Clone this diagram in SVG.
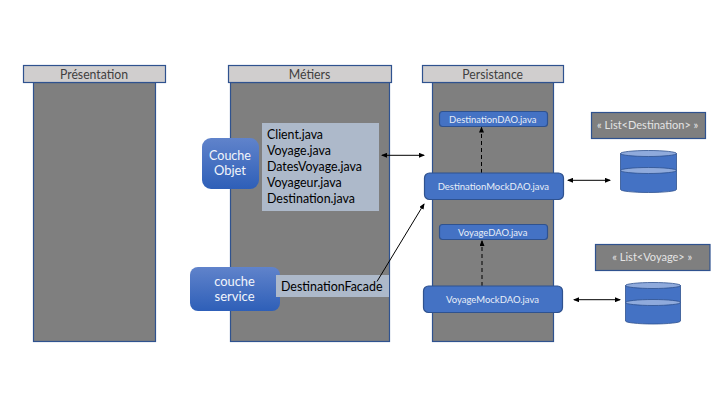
<svg xmlns="http://www.w3.org/2000/svg" width="720" height="405" viewBox="0 0 720 405">
<style>
text{font-family:Lato,Carlito,"Open Sans",sans-serif;font-weight:400}
.body{fill:#7f7f7f;stroke:#2f528f;stroke-width:1.2}
.head{fill:#d0cece;stroke:#2f528f;stroke-width:1.2}
.headt{font-size:13px;fill:#404040;text-anchor:middle}
.dao{fill:#4472c4;stroke:#2f528f;stroke-width:1.2}
.daot{font-size:10px;fill:#e8eef8;text-anchor:middle}
.note{fill:#adb9ca}
.notet{font-size:13px;fill:#000}
.layer{fill:url(#g)}
.layert{font-size:13px;fill:#f2f5fb;text-anchor:middle}
.list{fill:#7f7f7f;stroke:#2f528f;stroke-width:1.2}
.listt{font-size:11px;fill:#e4e4e4;text-anchor:middle}
.cyl{fill:#4472c4;stroke:#2f528f;stroke-width:.8}
.cyltop{fill:#8faadc;stroke:#2f528f;stroke-width:.8}
.c{fill:none;stroke:#000;stroke-width:1}
</style>
<defs>
<linearGradient id="g" x1="0" y1="0" x2="0" y2="1"><stop offset="0" stop-color="#6083cb"/><stop offset="1" stop-color="#2e5fb8"/></linearGradient>
<marker id="a" markerWidth="6" markerHeight="5" refX="5" refY="2.5" orient="auto-start-reverse" markerUnits="userSpaceOnUse"><path d="M0,0L6,2.500L0,5Z" fill="#000"/></marker>
</defs>
<rect width="720" height="405" fill="#fff"/>
<g id="presentation"><rect class="body" x="33.500" y="82.500" width="122" height="259"/><rect class="head" x="23.500" y="65.500" width="142" height="17"/><text class="headt" x="94" y="79" textLength="68" lengthAdjust="spacingAndGlyphs">Présentation</text></g>
<g id="metiers"><rect class="body" x="230.500" y="82.500" width="159" height="259"/><rect class="head" x="228.500" y="65.500" width="163" height="17"/><text class="headt" x="309.500" y="79" textLength="41.700" lengthAdjust="spacingAndGlyphs">Métiers</text></g>
<g id="persistance"><rect class="body" x="432.500" y="82.500" width="121" height="259"/><rect class="head" x="422.500" y="65.500" width="141" height="17"/><text class="headt" x="492.700" y="79" textLength="60.700" lengthAdjust="spacingAndGlyphs">Persistance</text></g>
<g id="classes"><rect class="note" x="262" y="123" width="117" height="88"/><text class="notet" x="267" y="139" textLength="56" lengthAdjust="spacingAndGlyphs">Client.java</text><text class="notet" x="267" y="155" textLength="64" lengthAdjust="spacingAndGlyphs">Voyage.java</text><text class="notet" x="267" y="171" textLength="95" lengthAdjust="spacingAndGlyphs">DatesVoyage.java</text><text class="notet" x="267" y="187" textLength="74.700" lengthAdjust="spacingAndGlyphs">Voyageur.java</text><text class="notet" x="267" y="203" textLength="88" lengthAdjust="spacingAndGlyphs">Destination.java</text></g>
<g id="couche-objet"><rect class="layer" x="202" y="138" width="57" height="51" rx="9"/><text class="layert" x="230" y="160" textLength="42" lengthAdjust="spacingAndGlyphs">Couche</text><text class="layert" x="230" y="175" textLength="32" lengthAdjust="spacingAndGlyphs">Objet</text></g>
<g id="couche-service"><rect class="layer" x="190" y="267" width="90" height="44" rx="8"/><text class="layert" x="234.500" y="286" textLength="40.700" lengthAdjust="spacingAndGlyphs">couche</text><text class="layert" x="234.500" y="301" textLength="40" lengthAdjust="spacingAndGlyphs">service</text></g>
<g id="facade"><rect class="note" x="276" y="275" width="113" height="22"/><text class="notet" x="281" y="291" textLength="101.500" lengthAdjust="spacingAndGlyphs">DestinationFacade</text></g>
<g id="connectors">
<path class="c" d="M382,155.300H424" marker-start="url(#a)" marker-end="url(#a)"/>
<path class="c" d="M377,281.500L424,204" marker-end="url(#a)"/>
<path class="c" d="M481.500,173V127.500" stroke-dasharray="4 3" marker-end="url(#a)"/>
<path class="c" d="M482,286V241" stroke-dasharray="4 3" marker-end="url(#a)"/>
<path class="c" d="M568,180.300H610" marker-start="url(#a)" marker-end="url(#a)"/>
<path class="c" d="M574,299.700H620" marker-start="url(#a)" marker-end="url(#a)"/>
</g>
<g id="destination-dao"><rect class="dao" x="439.500" y="111.500" width="108" height="15" rx="3"/><text class="daot" x="492.700" y="123" textLength="87.300" lengthAdjust="spacingAndGlyphs">DestinationDAO.java</text></g>
<g id="destination-mock"><rect class="dao" x="424.500" y="173" width="139" height="26.500" rx="5"/><text class="daot" x="493.300" y="190" textLength="111.300" lengthAdjust="spacingAndGlyphs">DestinationMockDAO.java</text></g>
<g id="voyage-dao"><rect class="dao" x="439.500" y="224.500" width="108" height="15" rx="3"/><text class="daot" x="492.700" y="236" textLength="69.300" lengthAdjust="spacingAndGlyphs">VoyageDAO.java</text></g>
<g id="voyage-mock"><rect class="dao" x="423.500" y="286" width="139" height="26.500" rx="5"/><text class="daot" x="492.500" y="303" textLength="93" lengthAdjust="spacingAndGlyphs">VoyageMockDAO.java</text></g>
<g id="list-destination"><rect class="list" x="591.500" y="112.500" width="114" height="26"/><text class="listt" x="647.700" y="129" textLength="101.300" lengthAdjust="spacingAndGlyphs">« List&lt;Destination&gt; »</text></g>
<g id="list-voyage"><rect class="list" x="595.500" y="244.500" width="114.500" height="26"/><text class="listt" x="652.300" y="261" textLength="80" lengthAdjust="spacingAndGlyphs">« List&lt;Voyage&gt; »</text></g>
<g id="db-destination"><path class="cyl" d="M620.500,153.500V189.500A28,3 0 0 0 676.500,189.500V153.500Z"/><ellipse class="cyltop" cx="648.500" cy="153.500" rx="28" ry="3"/><ellipse class="cyltop" cx="648.500" cy="170.500" rx="28" ry="3"/></g>
<g id="db-voyage"><path class="cyl" d="M625.500,285.500V321A27.500,3 0 0 0 680.500,321V285.500Z"/><ellipse class="cyltop" cx="653" cy="285.500" rx="27.500" ry="3"/><ellipse class="cyltop" cx="653" cy="302.500" rx="27.500" ry="3"/></g>
</svg>
